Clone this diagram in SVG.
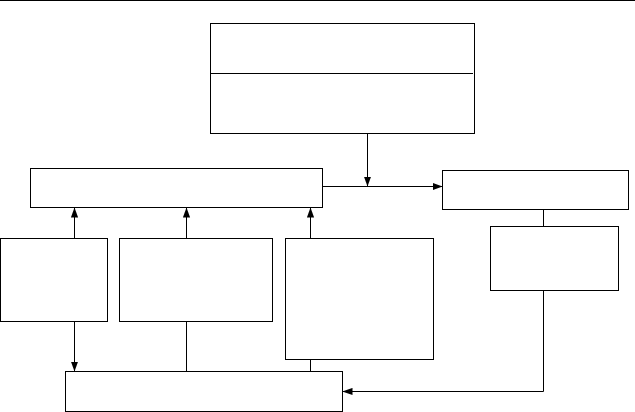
<svg xmlns="http://www.w3.org/2000/svg" width="635" height="412" viewBox="0 0 635 412">
<style>
.n{fill:#fff;stroke:#000;stroke-width:1}
.c{fill:none;stroke:#000;stroke-width:1}
</style>
<defs>
<marker id="ah" markerUnits="userSpaceOnUse" markerWidth="10" markerHeight="8" refX="10" refY="4" orient="auto">
<path d="M0,0.4 L10,4 L0,7.6 z" fill="#000"/>
</marker>
</defs>
<rect width="635" height="412" fill="#fff"/>
<line x1="0" y1="0.5" x2="635" y2="0.5" class="c"/>
<g id="top"><rect class="n" x="210.5" y="23.5" width="264" height="110"/><line class="c" x1="210.5" y1="73.5" x2="473" y2="73.5"/></g>
<g id="left"><rect class="n" x="30.5" y="168.5" width="292" height="39"/></g>
<g id="right"><rect class="n" x="442.5" y="170.5" width="186" height="39"/></g>
<g id="a"><rect class="n" x="0.5" y="238.5" width="107" height="83"/></g>
<g id="b"><rect class="n" x="119.5" y="238.5" width="153" height="83"/></g>
<g id="c"><rect class="n" x="285.5" y="238.5" width="148" height="121"/></g>
<g id="d"><rect class="n" x="490.5" y="226.5" width="128" height="64"/></g>
<g id="bottom"><rect class="n" x="65.5" y="371.5" width="277" height="40"/></g>
<g id="connectors">
<path class="c" d="M367.5,133.5 V186.5" marker-end="url(#ah)"/>
<path class="c" d="M322.5,186.5 H442.5" marker-end="url(#ah)"/>
<path class="c" d="M74.5,238.5 V207.5" marker-end="url(#ah)"/>
<path class="c" d="M186.5,238.5 V207.5" marker-end="url(#ah)"/>
<path class="c" d="M310.5,238.5 V207.5" marker-end="url(#ah)"/>
<path class="c" d="M543.5,209.5 V226.5"/>
<path class="c" d="M74.5,321.5 V371.5" marker-end="url(#ah)"/>
<path class="c" d="M186.5,321.5 V371.5"/>
<path class="c" d="M310.5,359.5 V371.5"/>
<path class="c" d="M543.5,290.5 V391.5 H342.5" marker-end="url(#ah)"/>
</g>
</svg>
